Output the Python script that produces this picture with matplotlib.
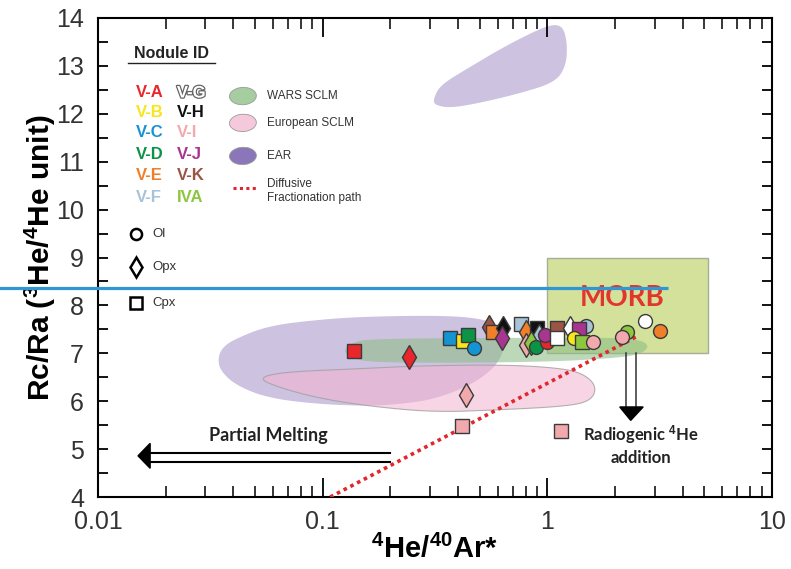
import numpy as np
import matplotlib
matplotlib.use('Agg')
import matplotlib.pyplot as plt
import matplotlib.patheffects as pe
from matplotlib.patches import Ellipse, Rectangle
from matplotlib.ticker import FixedLocator, NullFormatter

plt.rcParams['font.family'] = ['Liberation Sans', 'DejaVu Sans']
plt.rcParams['mathtext.fontset'] = 'custom'
plt.rcParams['mathtext.rm'] = 'Liberation Sans'
plt.rcParams['mathtext.bf'] = 'Liberation Sans:bold'
plt.rcParams['mathtext.default'] = 'bf'

# nodule colours
nodule_colors = {
    'V-A': '#e8262b', 'V-B': '#f6e61a', 'V-C': '#1594d3', 'V-D': '#0b9346',
    'V-E': '#f07f2a', 'V-F': '#a9c3d6', 'V-G': '#ffffff', 'V-H': '#111111',
    'V-I': '#f2a9ae', 'V-J': '#a8358f', 'V-K': '#9a5546', 'IVA': '#8dc63f',
}
mineral_markers = {'Ol': 'o', 'Opx': 'd', 'Cpx': 's'}

# samples: 4He/40Ar*, Rc/Ra, nodule, mineral
he_ar = [0.138, 0.243, 0.370, 0.423, 0.445, 0.473, 0.435, 0.418, 0.552, 0.575,
         0.637, 0.630, 0.766, 0.800, 0.900, 0.920, 0.800, 0.850, 0.890, 1.00,
         0.98, 1.10, 1.10, 1.26, 1.48, 1.39, 1.31, 1.43, 1.60, 2.27,
         2.16, 2.73, 3.16, 1.15]
rc_ra = [7.05, 6.92, 7.32, 7.26, 7.38, 7.11, 6.13, 5.48, 7.55, 7.44,
         7.53, 7.32, 7.61, 7.44, 7.53, 7.36, 7.17, 7.21, 7.13, 7.24,
         7.38, 7.53, 7.32, 7.53, 7.57, 7.51, 7.32, 7.24, 7.24, 7.44,
         7.34, 7.67, 7.47, 5.38]
nodule = ['V-A', 'V-A', 'V-C', 'V-B', 'V-D', 'V-C', 'V-I', 'V-I', 'V-K', 'V-E',
          'V-H', 'V-J', 'V-F', 'V-E', 'V-H', 'V-F', 'V-I', 'IVA', 'V-D', 'V-A',
          'V-J', 'V-K', 'V-G', 'V-G', 'V-F', 'V-J', 'V-B', 'IVA', 'V-I', 'IVA',
          'V-I', 'V-G', 'V-E', 'V-I']
mineral = ['Cpx', 'Opx', 'Cpx', 'Cpx', 'Cpx', 'Ol', 'Opx', 'Cpx', 'Opx', 'Cpx',
           'Opx', 'Opx', 'Cpx', 'Opx', 'Cpx', 'Opx', 'Opx', 'Opx', 'Ol', 'Ol',
           'Ol', 'Cpx', 'Cpx', 'Opx', 'Ol', 'Cpx', 'Ol', 'Cpx', 'Ol', 'Ol',
           'Ol', 'Ol', 'Ol', 'Cpx']

# fields (outline vertices)
ear_top_x = [0.310, 0.333, 0.454, 0.637, 0.902, 1.064, 1.178, 1.228, 1.21, 1.086, 0.759, 0.504, 0.370, 0.317]
ear_top_y = [12.29, 12.60, 12.98, 13.39, 13.75, 13.87, 13.81, 13.44, 13.00, 12.66, 12.43, 12.23, 12.12, 12.18]
ear_low_x = [0.0342, 0.0357, 0.0399, 0.0566, 0.0945, 0.158, 0.370, 0.54, 0.62, 0.645,
             0.625, 0.557, 0.440, 0.311, 0.222, 0.158, 0.0945, 0.0566, 0.0408, 0.0349]
ear_low_y = [6.90, 7.11, 7.28, 7.57, 7.70, 7.77, 7.79, 7.70, 7.52, 7.22,
             6.92, 6.62, 6.30, 6.04, 5.94, 5.90, 5.94, 6.07, 6.34, 6.65]
eur_x = [0.0511, 0.0667, 0.133, 0.272, 0.618, 1.031, 1.403, 1.653, 1.586, 1.266,
         0.618, 0.311, 0.158, 0.0945, 0.0647]
eur_y = [6.48, 6.61, 6.67, 6.74, 6.76, 6.71, 6.61, 6.34, 6.03, 5.90,
         5.82, 5.77, 5.90, 6.07, 6.28]
wars_x = [0.123, 0.135, 0.16, 0.5, 2.0, 2.6, 2.85, 2.6, 2.0, 1.0, 0.3, 0.16, 0.135]
wars_y = [7.05, 7.22, 7.30, 7.32, 7.33, 7.28, 7.15, 6.98, 6.90, 6.82, 6.80, 6.82, 6.90]

morb_x = [1.0, 5.2]
morb_y = [7.0, 9.0]
diff_x = [0.108, 2.52]
diff_y = [4.0, 7.36]
blue_x = [0.0036, 3.46]
blue_y = [8.36, 8.36]


def smooth(xs, ys, n=3):
    # chaikin corner cutting in log-x space
    p = np.column_stack([np.log10(xs), ys])
    for _ in range(n):
        q = np.roll(p, -1, axis=0)
        p = np.vstack([np.column_stack([0.75 * p[:, 0] + 0.25 * q[:, 0], 0.75 * p[:, 1] + 0.25 * q[:, 1]]),
                       np.column_stack([0.25 * p[:, 0] + 0.75 * q[:, 0], 0.25 * p[:, 1] + 0.75 * q[:, 1]])])
        p = p.reshape(2, -1, 2).transpose(1, 0, 2).reshape(-1, 2)
    return 10 ** p[:, 0], p[:, 1]


fig = plt.figure(figsize=(7.91, 5.69), dpi=100)
ax = fig.add_axes([0.1239, 0.1265, 0.8521, 0.8419])
ax.set_xscale('log')
ax.set_xlim(0.01, 10)
ax.set_ylim(4, 14)

# fields
for xs, ys in [(ear_top_x, ear_top_y), (ear_low_x, ear_low_y)]:
    sx, sy = smooth(xs, ys)
    ax.fill(sx, sy, color='#8a6fb5', alpha=0.42, lw=0, zorder=1)
sx, sy = smooth(eur_x, eur_y)
ax.fill(sx, sy, facecolor='#f4b3cf', alpha=0.55, edgecolor='none', zorder=2)
ax.plot(np.append(sx, sx[0]), np.append(sy, sy[0]), color='#a0a0a0', lw=0.8, alpha=0.8, zorder=2)
ax.add_patch(Rectangle((morb_x[0], morb_y[0]), morb_x[1] - morb_x[0], morb_y[1] - morb_y[0],
                       facecolor='#d3e19b', edgecolor='#a8ad98', lw=1.0, zorder=2.5))
sx, sy = smooth(wars_x, wars_y)
ax.fill(sx, sy, facecolor='#8cbd86', alpha=0.58, edgecolor='none', zorder=3)

ax.text(2.16, 8.16, 'MORB', color='#e2352b', fontsize=20, fontweight='bold',
        family=['Lato', 'DejaVu Sans'], ha='center', va='center', zorder=3)

# diffusive fractionation path
ax.plot(diff_x, diff_y, color='#e1262d', lw=2.6, ls=(0, (1, 1.1)), zorder=4)

# radiogenic 4He arrow
for ax_x in [2.25, 2.47]:
    ax.plot([ax_x, ax_x], [7.0, 5.88], color='#333333', lw=1.1, zorder=4)
ax.fill([2.10, 2.67, 2.35], [5.88, 5.88, 5.60], color='black', zorder=4)
ax.text(2.62, 5.1, 'Radiogenic $^4$He\naddition', fontsize=12, fontweight='bold',
        family=['Lato', 'DejaVu Sans'], ha='center', va='center', color='#222222',
        linespacing=1.3, zorder=4)

# partial melting arrow
for yy in [4.92, 4.73]:
    ax.plot([0.2, 0.0165], [yy, yy], color='black', lw=1.5, zorder=4)
ax.fill([0.01706, 0.01706, 0.01507], [5.12, 4.60, 4.86], color='black', zorder=4, clip_on=False)
ax.text(0.0572, 5.29, 'Partial Melting', fontsize=13, fontweight='bold',
        family=['Lato', 'DejaVu Sans'], ha='center', va='center', color='#222222', zorder=4)

# samples
for x, y, nd, mn in zip(he_ar, rc_ra, nodule, mineral):
    mk = mineral_markers[mn]
    ms = {'o': 10.0, 's': 10.0, 'd': 12.5}[mk]
    ax.plot(x, y, marker=mk, ms=ms, mfc=nodule_colors[nd], mec='#3a3a3a', mew=1.0,
            ls='none', zorder=5)

# blue line
ax.plot(blue_x, blue_y, color='#2f97d5', lw=2.3, clip_on=False, zorder=6,
        solid_capstyle='butt')

# legend: nodule id
ax.text(0.109, 0.925, 'Nodule ID', transform=ax.transAxes, fontsize=11.5, fontweight='bold',
        ha='center', va='center', color='#222222')
ax.plot([0.0445, 0.1736], [0.906, 0.906], transform=ax.transAxes, color='#222222', lw=1.0)
left_ids = ['V-A', 'V-B', 'V-C', 'V-D', 'V-E', 'V-F']
right_ids = ['V-G', 'V-H', 'V-I', 'V-J', 'V-K', 'IVA']
rows = [0.8434, 0.8017, 0.7599, 0.714, 0.672, 0.626]
for ry, a, b in zip(rows, left_ids, right_ids):
    ax.text(0.0564, ry, a, transform=ax.transAxes, fontsize=12, fontweight='bold',
            color=nodule_colors[a], va='center', ha='left')
    if b == 'V-G':
        ax.text(0.117, ry, b, transform=ax.transAxes, fontsize=12, fontweight='bold',
                color='white', va='center', ha='left',
                path_effects=[pe.withStroke(linewidth=1.8, foreground='#666666')])
    else:
        ax.text(0.117, ry, b, transform=ax.transAxes, fontsize=12, fontweight='bold',
                color=nodule_colors[b], va='center', ha='left')

# legend: fields
field_leg = [('WARS SCLM', '#a6cda0', 0.837), ('European SCLM', '#f6c8dc', 0.781), ('EAR', '#8a76b8', 0.712)]
for lab, col, ly in field_leg:
    ax.add_patch(Ellipse((0.215, ly), 0.040, 0.036, angle=12, transform=ax.transAxes,
                         facecolor=col, edgecolor='#9a9a9a', lw=0.6))
    ax.text(0.251, ly, lab, transform=ax.transAxes, fontsize=8.5, color='#333333', va='center')
ax.plot([0.2, 0.235], [0.645, 0.645], transform=ax.transAxes, color='#e1262d', lw=2.2,
        ls=(0, (1, 1.1)))
ax.text(0.251, 0.638, 'Diffusive\nFractionation path', transform=ax.transAxes, fontsize=8.5,
        color='#333333', va='center', linespacing=1.2)

# legend: minerals
for lab, mk, ly in [('Ol', 'o', 0.549), ('Opx', 'd', 0.480), ('Cpx', 's', 0.405)]:
    ax.plot(0.056, ly, marker=mk, ms=8 if mk != 'd' else 10, mfc='white', mec='black', mew=1.8,
            transform=ax.transAxes)
    ax.text(0.080, ly, lab, transform=ax.transAxes, fontsize=9.5, color='#333333', va='center')

# axes style
for sp in ax.spines.values():
    sp.set_linewidth(1.5)
ax.yaxis.set_major_locator(FixedLocator(np.arange(4, 15, 1)))
ax.yaxis.set_minor_locator(FixedLocator(np.arange(4.5, 14, 1)))
ax.tick_params(axis='y', which='both', direction='in', length=7, width=1.3, right=True,
               labelsize=18, labelcolor='#333333', pad=10)
ax.tick_params(axis='x', which='major', direction='in', length=14, width=1.3, top=True,
               labelsize=18, labelcolor='#333333', pad=9)
ax.tick_params(axis='x', which='minor', direction='in', length=8, width=1.1, top=True)
ax.xaxis.set_minor_formatter(NullFormatter())
ax.set_xticks([0.01, 0.1, 1, 10])
ax.set_xticklabels(['0.01', '0.1', '1', '10'])

ax.set_xlabel('$^4$He/$^{40}$Ar*', fontsize=21, fontweight='bold', labelpad=1)
ax.set_ylabel('Rc/Ra ($^3$He/$^4$He unit)', fontsize=21.5, fontweight='bold', labelpad=-1)

fig.savefig('out.png', dpi=100)
